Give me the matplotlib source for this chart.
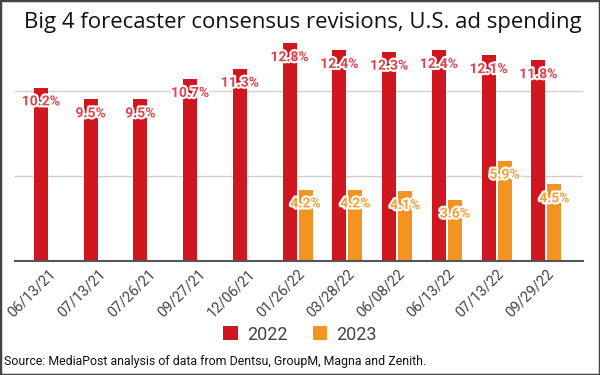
import matplotlib.pyplot as plt
import matplotlib.patheffects as pe
from matplotlib.patches import Rectangle
import numpy as np

plt.rcParams['font.family'] = ['Roboto', 'DejaVu Sans']

dates = ['06/13/21', '07/13/21', '07/26/21', '09/27/21', '12/06/21', '01/26/22',
         '03/28/22', '06/08/22', '06/13/22', '07/13/22', '09/29/22']
vals_2022 = [10.2, 9.5, 9.5, 10.7, 11.3, 12.8, 12.4, 12.3, 12.4, 12.1, 11.8]
vals_2023 = [None, None, None, None, None, 4.2, 4.2, 4.1, 3.6, 5.9, 4.5]

red = '#d0161f'
orange = '#f39322'

fig = plt.figure(figsize=(6, 3.75), dpi=100)
ax = fig.add_axes([0.025, 0.304, 0.947, 0.635])

x = np.arange(len(dates))
w = 0.28
off = 0.16
x23 = [i for i, v in enumerate(vals_2023) if v is not None]
v23 = [v for v in vals_2023 if v is not None]

b1 = ax.bar(x - off, vals_2022, width=w, color=red, label='2022', zorder=3)
b2 = ax.bar(np.array(x23) + off, v23, width=w, color=orange, label='2023', zorder=3)

stroke = [pe.withStroke(linewidth=3, foreground='white')]
for xi, v in zip(x - off, vals_2022):
    ax.annotate(f'{v:.1f}%', (xi, v), xytext=(0, -10), textcoords='offset points',
                ha='center', va='center', fontsize=10, fontweight='bold',
                color='#e2434b', path_effects=stroke, zorder=4)
for xi, v in zip(np.array(x23) + off, v23):
    ax.annotate(f'{v:.1f}%', (xi, v), xytext=(0, -10), textcoords='offset points',
                ha='center', va='center', fontsize=10, fontweight='bold',
                color='#f5a03c', path_effects=stroke, zorder=4)

ax.set_xlim(-0.68, 10.74)
ax.set_ylim(0, 14)
ax.set_yticks([0, 5, 10])
ax.yaxis.grid(True, color='#d0d0d0', linewidth=1, zorder=0)
ax.tick_params(axis='y', left=False, labelleft=False)
ax.tick_params(axis='x', length=0, pad=4)
ax.set_xticks(x)
ax.set_xticklabels(dates, rotation=45, ha='right', rotation_mode='anchor',
                   fontsize=10.5, color='#444444')
for s in ['top', 'right', 'left']:
    ax.spines[s].set_visible(False)
ax.spines['bottom'].set_color('#555555')
ax.spines['bottom'].set_linewidth(1.5)
ax.spines['bottom'].set_zorder(5)

fig.text(0.04, 0.94, 'Big 4 forecaster consensus revisions, U.S. ad spending',
         family='Open Sans', fontsize=15.9, color='#111111', va='center', ha='left')

fig.legend(handles=[b1, b2], loc='center', bbox_to_anchor=(0.5, 0.108), ncol=2,
           frameon=False, fontsize=13, handlelength=0.8, handleheight=0.8,
           handletextpad=0.5, columnspacing=1.4, labelcolor='#444444')

fig.text(0.007, 0.035, 'Source: MediaPost analysis of data from Dentsu, GroupM, Magna and Zenith.',
         fontsize=8.9, color='#111111', va='center', ha='left')

fig.patches.append(Rectangle((0, 0), 1, 1, transform=fig.transFigure, fill=False,
                             edgecolor='#444444', linewidth=2.5))

fig.savefig('out.png', dpi=100)
